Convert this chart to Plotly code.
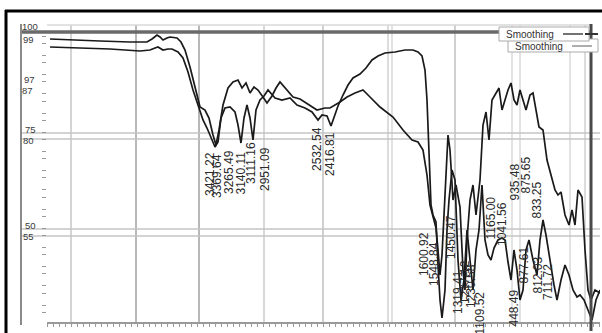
import plotly.graph_objects as go

W, H = 602, 333

# ---------------- data (wavenumber cm-1, transmittance %) ----------------
wn_a = [4774.5, 4604.5, 4349.5, 4094.5, 3950, 3907.5, 3865, 3839.5, 3814, 3780, 3754.5, 3695,
        3661, 3627, 3584.5, 3542, 3499.5, 3457, 3423, 3389, 3363.5, 3338, 3304, 3261.5, 3219,
        3176.5, 3142.5, 3108.5, 3074.5, 3040.5, 3006.5, 2964, 2930, 2887.5, 2853.5, 2819.5,
        2760, 2709, 2649.5, 2581.5, 2505, 2437, 2394.5, 2309.5, 2250, 2182, 2114, 2054.5,
        1969.5, 1859, 1774, 1697.5, 1646.5, 1604, 1570, 1544.5, 1519, 1493.5, 1476.5, 1459.5,
        1442.5, 1417, 1391.5, 1374.5, 1349, 1323.5, 1289.5, 1264, 1247, 1230, 1204.5, 1179,
        1153.5, 1119.5, 1094, 1068.5, 1043, 1017.5, 992, 958, 932.5, 907, 881.5, 856, 830.5,
        805, 779.5, 754, 728.5, 694.5, 669, 643.5, 618, 584, 550, 516, 482, 456.5, 431, 397,
        363, 337.5, 312, 286.5, 252.5, 227, 201.5, 176, 142, 99.5]
t_a = [98.25, 98, 97.75, 97.5, 97.5, 98.25, 99.25, 98.75, 98, 98.5, 98.75, 98.5,
       97.5, 95.5, 91.25, 86.25, 81.25, 80.5, 78.5, 74.25, 71.75, 75.5, 81.75, 86, 87.5,
       88, 86, 87.25, 84.75, 86.25, 85.5, 83.75, 82.25, 84, 86, 87.5,
       85.5, 83.75, 83.25, 82, 80.5, 81, 81, 82.5, 83.75, 84.75, 85.5, 83.75,
       81.25, 78.75, 75.5, 73, 72.5, 70.5, 64.25, 56.75, 53.5, 51, 45.5, 39.25,
       44.25, 58, 74.25, 70.5, 58, 61.75, 56.25, 40.5, 35.5, 48, 58, 61.75,
       54.25, 63, 76.75, 80, 73, 83, 84.25, 86, 80.5, 83, 85.5, 87.25, 83,
       81.75, 85.5, 83, 80.5, 84.25, 84.75, 80.5, 76.25, 75.5, 68, 64.25, 60.5, 59.25, 60, 54.25,
       51.75, 55.5, 51.75, 60.5, 58.75, 45.5, 35.5, 33, 35.5, 34.75]

wn_b = [4774.5, 4519.5, 4264.5, 4009.5, 3924.5, 3882, 3856.5, 3814, 3771.5, 3737.5, 3686.5,
        3644, 3601.5, 3559, 3516.5, 3474, 3440, 3406, 3372, 3346.5, 3321, 3287, 3244.5, 3202,
        3176.5, 3151, 3125.5, 3100, 3074.5, 3049, 3023.5, 2989.5, 2955.5, 2921.5, 2862, 2802.5,
        2734.5, 2675, 2607, 2547.5, 2496.5, 2462.5, 2420, 2386, 2360.5, 2326.5, 2284, 2241.5,
        2199, 2139.5, 2088.5, 2037.5, 1986.5, 1927, 1842, 1757, 1689, 1646.5, 1612.5, 1587,
        1570, 1553, 1536, 1519, 1493.5, 1476.5, 1459.5, 1442.5, 1417, 1400, 1383, 1357.5, 1332,
        1306.5, 1281, 1255.5, 1230, 1204.5, 1179, 1153.5, 1128, 1102.5, 1077, 1051.5, 1026,
        1000.5, 966.5, 932.5, 907, 881.5, 856, 830.5, 805, 779.5, 754, 728.5, 703, 669, 635,
        609.5, 584, 558.5, 524.5, 490.5, 465, 431, 397, 363, 329, 295, 269.5, 235.5, 201.5,
        167.5, 133.5, 99.5]
t_b = [96.25, 96, 95.75, 95.25, 95.5, 96, 96.25, 95.5, 95.75, 95.75, 95,
       93.5, 90, 85.5, 82, 78, 76, 73.75, 71.25, 72.5, 78.5, 81, 81.25, 80,
       76.75, 72.25, 78.5, 81.75, 78.5, 73, 80.5, 83, 84, 85.5, 83.5, 83,
       83.5, 81.75, 81, 80, 78, 79.25, 79, 76.5, 78.5, 81.5, 84.25, 86.75,
       88.5, 89.5, 91, 93, 94, 94.75, 95, 95.5, 95.5, 95, 94, 90.5,
       83, 68, 56.75, 54.25, 52.5, 41.75, 33, 28.5, 35.5, 50.5, 58, 65.5, 63,
       43, 33, 38, 50.5, 43, 35.5, 45.5, 50.5, 61.75, 48, 44.25, 43,
       46, 48, 48.5, 48, 42.5, 38, 45.5, 40.5, 33, 35.5, 45.5, 48, 43, 39.25,
       48, 53, 49.25, 42.5, 36.75, 33, 38, 41.75, 39.25, 35.5, 33.75, 34.25, 33, 30.5,
       28, 33, 35.5]

peak_text = ["3421.22", "3369.64", "3265.49", "3140.11", "3111.16", "2951.09", "2532.54",
             "2416.81", "1600.92", "1548.84", "1450.47", "1319.41", "1217.12", "1230.58",
             "1165.00", "1041.56", "935.48", "875.65", "833.25", "877.61", "812.03", "711.72",
             "448.49", "1109.52"]
peak_wn = [3414.5, 3355, 3253, 3159.5, 3066, 2947, 2505, 2394.5, 1595.5, 1510.5, 1366,
           1306.5, 1247, 1196, 1034.5, 932.5, 830.5, 737, 643.5, 754, 635, 541.5, 839, 1128]
peak_t = [70.5, 70, 71, 70.5, 73, 71.75, 76.75, 75.5, 50.5, 48, 54.75, 41, 43.5, 42.5,
          59.25, 58, 67.5, 69.25, 63, 46.75, 44.25, 42.5, 36, 35.5]

ytick_labels = ["100", "99", "97", "87", "75", "80", "50", "55"]
legend_names = ["Smoothing", "Smoothing"]

# ---------------- helpers for decoration placement (pixels -> paper) ----------------
def fx(px):
    return px / W

def fy(py):
    return 1 - py / H

X_RANGE = [4800, 99.5]
Y_RANGE = [27.5, 101.75]

fig = go.Figure()
fig.add_trace(go.Scatter(x=wn_a, y=t_a, mode="lines", name=legend_names[0],
                         line=dict(color="#1a1a1a", width=1.7), showlegend=False))
fig.add_trace(go.Scatter(x=wn_b, y=t_b, mode="lines", name=legend_names[1],
                         line=dict(color="#1a1a1a", width=1.7), showlegend=False))

shapes = []
# vertical light grid lines
for px, col, w in [(71, "#d4d4d4", 2), (136, "#b8b8b8", 2), (199, "#b8b8b8", 2), (264, "#d8d8d8", 2),
                   (323, "#d0d0d0", 2), (388, "#d0d0d0", 1.5), (392, "#d8d8d8", 1.5),
                   (455, "#d0d0d0", 2), (512, "#dadada", 1.5), (520, "#dadada", 1.5),
                   (570, "#d8d8d8", 1.5), (585, "#d0d0d0", 1.5)]:
    shapes.append(dict(type="line", xref="paper", yref="paper", x0=fx(px), x1=fx(px),
                       y0=fy(322), y1=fy(25), line=dict(color=col, width=w), layer="below"))
# horizontal double grid lines
for py in [133, 139, 229, 236]:
    shapes.append(dict(type="line", xref="paper", yref="paper", x0=fx(22), x1=fx(600),
                       y0=fy(py), y1=fy(py), line=dict(color="#c4c4c4", width=1.5), layer="below"))
# light top line
shapes.append(dict(type="line", xref="paper", yref="paper", x0=fx(47), x1=fx(591),
                   y0=fy(25), y1=fy(25), line=dict(color="#d8d8d8", width=1.5), layer="below"))
# thick top band
shapes.append(dict(type="line", xref="paper", yref="paper", x0=fx(22), x1=fx(591),
                   y0=fy(32), y1=fy(32), line=dict(color="#6a6a6a", width=3.5)))
# left gray axis line
shapes.append(dict(type="line", xref="paper", yref="paper", x0=fx(21), x1=fx(21),
                   y0=fy(325), y1=fy(24), line=dict(color="#8a8a8a", width=2)))
# right thick vertical
shapes.append(dict(type="line", xref="paper", yref="paper", x0=fx(591), x1=fx(591),
                   y0=fy(331), y1=fy(24), line=dict(color="#4a4a4a", width=3)))
# outer black frame (left + top)
shapes.append(dict(type="line", xref="paper", yref="paper", x0=fx(6), x1=fx(6),
                   y0=fy(333), y1=fy(10), line=dict(color="#000000", width=3)))
shapes.append(dict(type="line", xref="paper", yref="paper", x0=fx(5), x1=fx(602),
                   y0=fy(11), y1=fy(11), line=dict(color="#000000", width=3)))
# legend boxes
shapes.append(dict(type="rect", xref="paper", yref="paper", x0=fx(508), x1=fx(598),
                   y0=fy(52), y1=fy(39), line=dict(color="#aaaaaa", width=1), fillcolor="white"))
shapes.append(dict(type="rect", xref="paper", yref="paper", x0=fx(499), x1=fx(589),
                   y0=fy(41), y1=fy(27), line=dict(color="#aaaaaa", width=1), fillcolor="white"))
shapes.append(dict(type="line", xref="paper", yref="paper", x0=fx(563), x1=fx(583),
                   y0=fy(34), y1=fy(34), line=dict(color="#444", width=1.5)))
shapes.append(dict(type="line", xref="paper", yref="paper", x0=fx(572), x1=fx(592),
                   y0=fy(46), y1=fy(46), line=dict(color="#777", width=1.2)))
shapes.append(dict(type="line", xref="paper", yref="paper", x0=fx(585), x1=fx(598),
                   y0=fy(34), y1=fy(34), line=dict(color="#333", width=2)))

annotations = []
# peak labels, rotated
for txt, xv, yv in zip(peak_text, peak_wn, peak_t):
    annotations.append(dict(x=xv, y=yv, xref="x", yref="y", text=txt, showarrow=False,
                            textangle=-90, xanchor="center", yanchor="top",
                            font=dict(family="Liberation Sans", size=12, color="#2a2a2a")))
# stacked (double) y tick labels
for txt, px, py in zip(ytick_labels, [30, 28, 29, 27, 30, 28, 30, 28],
                       [26, 40, 79, 90, 129, 140, 225, 236]):
    annotations.append(dict(x=fx(px), y=fy(py), xref="paper", yref="paper", text=txt,
                            showarrow=False, xanchor="center", yanchor="middle",
                            font=dict(family="Liberation Sans", size=9.5, color="#3a3a3a")))
# legend texts
annotations.append(dict(x=fx(530), y=fy(34), xref="paper", yref="paper", text=legend_names[0],
                        showarrow=False, xanchor="center", yanchor="middle",
                        font=dict(family="Liberation Sans", size=10, color="#333")))
annotations.append(dict(x=fx(539), y=fy(46.5), xref="paper", yref="paper", text=legend_names[1],
                        showarrow=False, xanchor="center", yanchor="middle",
                        font=dict(family="Liberation Sans", size=10, color="#333")))

fig.update_layout(
    width=W, height=H,
    margin=dict(l=0, r=0, t=0, b=0),
    paper_bgcolor="white", plot_bgcolor="white",
    showlegend=False,
    shapes=shapes, annotations=annotations,
    xaxis=dict(domain=[fx(47), fx(600)], range=X_RANGE, showgrid=False, zeroline=False,
               showline=True, linecolor="#9a9a9a", linewidth=2, ticks="outside",
               ticklen=3, tickcolor="#9a9a9a", tick0=4800, dtick=51, showticklabels=False),
    yaxis=dict(domain=[fy(322), fy(25)], range=Y_RANGE, showgrid=False, zeroline=False,
               showline=False, ticks="outside", ticklen=4, tickcolor="#9a9a9a",
               tick0=82.75, dtick=4.8, showticklabels=False),
    yaxis2=dict(domain=[fy(322), fy(25)], range=Y_RANGE, overlaying="y", anchor="x",
                showgrid=False, zeroline=False, showline=False, ticks="outside", ticklen=4,
                tickcolor="#9a9a9a", tick0=79.75, dtick=4.8, showticklabels=False),
)
fig.add_trace(go.Scatter(x=[None], y=[None], yaxis="y2", showlegend=False, hoverinfo="skip"))

fig.write_html("out.html", config={"displayModeBar": False},
               post_script="document.body.style.margin='0';document.body.style.overflow='hidden';")
